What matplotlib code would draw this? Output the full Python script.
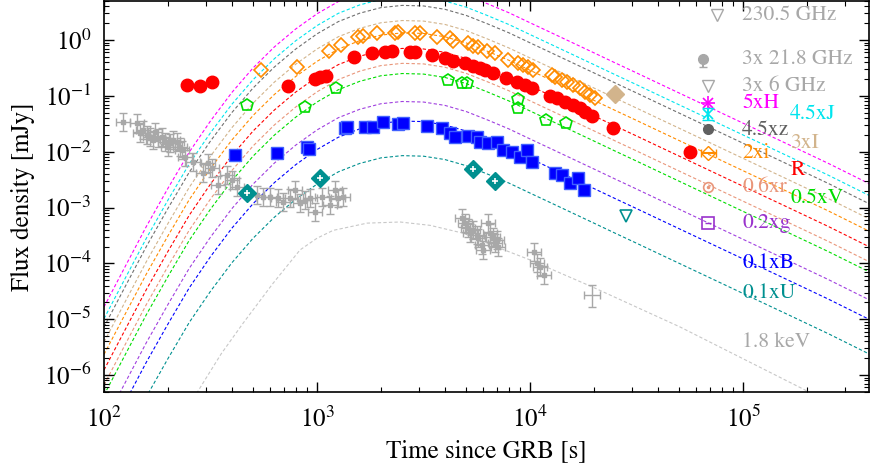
import numpy as np
import matplotlib
matplotlib.use('Agg')
import matplotlib.pyplot as plt
from matplotlib.ticker import LogLocator, NullFormatter

plt.rcParams['font.family'] = ['STIXGeneral', 'DejaVu Serif']
plt.rcParams['mathtext.fontset'] = 'stix'

# model light curve for the R band (s, mJy)
t_model = [100, 126, 158, 200, 251, 316, 398, 501, 631, 794, 1000, 1259, 1585, 1995,
           2512, 3162, 3981, 5012, 6310, 7943, 10000, 12590, 15850, 19950, 25120,
           31620, 39810, 63100, 100000, 158500, 251200, 398100]
f_model_R = [1.23e-6, 6.61e-6, 3.39e-5, 1.66e-4, 7.24e-4, 2.63e-3, 8.5e-3, 0.0235,
             0.056, 0.117, 0.219, 0.363, 0.513, 0.646, 0.708, 0.692, 0.603, 0.468,
             0.331, 0.229, 0.151, 0.100, 0.0661, 0.0437, 0.0288, 0.0191, 0.0126,
             0.0055, 0.0024, 0.00105, 4.57e-4, 1.91e-4]

# scaling of each optical/NIR model relative to R
band_labels = ['5xH', '4.5xJ', '4.5xz', '3xI', '2xi', 'R', '0.6xr', '0.5xV', '0.2xg', '0.1xB', '0.1xU']
band_scale = [13.5, 8.3, 5.9, 3.16, 1.9, 1.0, 0.54, 0.355, 0.112, 0.050, 0.012]
band_colors = ['#ff00ff', '#00e5ee', '#707070', '#d2b48c', '#ff8c00', '#ff0000',
               '#e9967a', '#00dd00', '#a040e0', '#0000ff', '#009090']

# X-ray model (1.8 keV)
t_xmod = [200, 274, 355, 450, 621, 832, 1000, 1189, 1718, 2455, 3396, 4842, 7000,
          10000, 19770, 50580, 195400, 398100]
f_xmod = [5.0e-8, 4.9e-7, 2.4e-6, 8.5e-6, 4.37e-5, 1.74e-4, 2.82e-4, 3.89e-4, 5.25e-4,
          5.5e-4, 4.79e-4, 3.47e-4, 1.95e-4, 1.15e-4, 3.72e-5, 7.24e-6, 5.37e-7, 1.38e-7]

# R data
t_R = [245, 282, 321, 731, 979, 1033, 1102, 1493, 1812, 2085, 2250, 2733, 2886, 3467,
       3990, 4350, 4950, 5400, 5820, 6150, 6700, 7710, 8690, 9480, 10210, 12400, 13400,
       14600, 15900, 17200, 18100, 19550, 24500, 56400]
f_R = [0.156, 0.150, 0.177, 0.150, 0.200, 0.217, 0.226, 0.496, 0.585, 0.610, 0.635,
       0.610, 0.610, 0.538, 0.476, 0.420, 0.387, 0.342, 0.315, 0.290, 0.256, 0.208,
       0.177, 0.156, 0.138, 0.099, 0.091, 0.077, 0.068, 0.060, 0.051, 0.043, 0.0265, 0.0098]

# 2xi data
t_i = [546, 806, 1138, 1296, 1557, 1644, 1914, 2324, 2400, 2886, 3045, 3660, 4210, 4350,
       5120, 5400, 5700, 6280, 6850, 7880, 8790, 9270, 9790, 10330, 12690, 13100, 14130,
       14930, 15900, 17200, 18100, 19150, 20200]
f_i = [0.290, 0.328, 0.635, 0.813, 1.13, 1.18, 1.33, 1.33, 1.39, 1.33, 1.33, 1.13, 1.09,
       0.96, 0.88, 0.78, 0.75, 0.635, 0.585, 0.438, 0.387, 0.356, 0.328, 0.290, 0.236,
       0.217, 0.192, 0.177, 0.156, 0.138, 0.117, 0.103, 0.091]

# 3xI data
t_I = [25100]
f_I = [0.108]

# 0.5xV data
t_V = [469, 878, 1228, 4120, 4800, 5060, 8790, 8790, 11890, 14750]
f_V = [0.0684, 0.063, 0.138, 0.192, 0.170, 0.170, 0.0877, 0.060, 0.0368, 0.0326]

# 0.1xB data
t_B = [412, 649, 897, 917, 1353, 1383, 1680, 1832, 2042, 2400, 2535, 3284, 3864, 4210,
       4445, 5120, 5640, 5820, 6350, 7000, 7470, 8230, 8970, 9680, 10210, 13100, 14130,
       15400, 16800, 17950]
f_B = [0.00869, 0.00944, 0.0121, 0.0111, 0.0265, 0.0276, 0.0276, 0.0276, 0.0339, 0.0312,
       0.0326, 0.0288, 0.0265, 0.0215, 0.0183, 0.0190, 0.0183, 0.0149, 0.0143, 0.0149,
       0.0107, 0.0098, 0.0080, 0.0107, 0.0065, 0.0041, 0.0038, 0.0027, 0.0034, 0.0021]

# 0.1xU data and upper limit
t_U = [469, 1033, 5400, 6850]
f_U = [0.00181, 0.00336, 0.00488, 0.00297]
t_U_lim = [28250]
f_U_lim = [0.000701]

# X-ray 1.8 keV data
t_X = [123, 143, 148, 152, 159, 164, 170, 173, 179, 187, 193, 200, 204, 211, 220, 227,
       232, 240, 262, 292, 308, 321, 343, 378, 399, 421, 523, 557, 601, 656, 692, 746,
       788, 832, 878, 927, 979, 1055, 1150, 1215, 1255, 1325,
       4800, 4950, 5120, 5230, 5400, 5640, 5700, 5950, 6020, 6350, 6490, 6700, 6850,
       7000, 7080, 10450, 10790, 11150, 11640]
f_X = [0.0339, 0.0326, 0.0215, 0.0244, 0.0198, 0.0183, 0.0161, 0.0225, 0.0175, 0.0183,
       0.0149, 0.0121, 0.0143, 0.0161, 0.0149, 0.0121, 0.0107, 0.0080, 0.0065, 0.0041,
       0.0062, 0.0051, 0.0025, 0.0038, 0.0031, 0.0023, 0.00167, 0.00153, 0.00153,
       0.00147, 0.00125, 0.00147, 0.00205, 0.00120, 0.00136, 0.00147, 0.00083, 0.00153,
       0.00110, 0.00205, 0.00147, 0.00153,
       6.46e-4, 5.25e-4, 4.27e-4, 3.48e-4, 3.94e-4, 3.20e-4, 2.83e-4, 2.12e-4, 1.73e-4,
       5.25e-4, 3.48e-4, 2.95e-4, 2.30e-4, 2.61e-4, 1.95e-4, 1.59e-4, 1.01e-4, 8.55e-5,
       6.15e-5]
# last X-ray point with its own error box
t_X_last, t_X_last_lo, t_X_last_hi = 19550, 17950, 21300
f_X_last, f_X_last_lo, f_X_last_hi = 2.69e-5, 1.64e-5, 4.07e-5

gray = '#a8a8a8'

fig = plt.figure(figsize=(8.72, 4.71), dpi=100)
ax = fig.add_axes([0.1193, 0.1677, 0.8773, 0.8301])

dash = (0, (3, 2))
for s, c in zip(band_scale, band_colors):
    ax.plot(t_model, np.array(f_model_R) * s, ls=dash, lw=0.8, color=c, zorder=1)
ax.plot(t_xmod, f_xmod, ls=dash, lw=0.8, color='#c8c8c8', zorder=1)

# X-ray data
tX = np.array(t_X); fX = np.array(f_X)
ax.errorbar(tX, fX, xerr=[tX - tX / 1.08, tX * 0.08], yerr=[fX - fX / 1.45, fX * 0.45],
            fmt='s', ms=3, color=gray, elinewidth=1, capsize=3, zorder=2)
ax.errorbar([t_X_last], [f_X_last],
            xerr=[[t_X_last - t_X_last_lo], [t_X_last_hi - t_X_last]],
            yerr=[[f_X_last - f_X_last_lo], [f_X_last_hi - f_X_last]],
            fmt='none', color=gray, elinewidth=1, capsize=3, zorder=2)

# optical data
ax.plot(t_R, f_R, 'o', ms=9, color='#ff0000', zorder=4)
ax.plot(t_i, f_i, 'D', ms=7, mfc='none', mec='#ff8c00', mew=1.2, zorder=4)
ax.plot(t_I, f_I, 'D', ms=9, color='#d2b48c', zorder=4)
ax.plot(t_V, f_V, 'p', ms=9, mfc='none', mec='#00dd00', mew=1.2, zorder=4)
ax.plot(t_B, f_B, 's', ms=8.5, color='#0000ff', mec='#4060ff', zorder=4)
ax.plot(t_U, f_U, 'D', ms=9, color='#009090', zorder=4)
ax.plot(t_U, f_U, '+', ms=4, color='white', mew=1.2, zorder=5)
ax.plot(t_U_lim, f_U_lim, 'v', ms=9, mfc='none', mec='#009090', mew=1.2, zorder=4)

ax.set_xscale('log')
ax.set_yscale('log')
ax.set_xlim(100, 3.9e5)
ax.set_ylim(4.95e-7, 5.0)

ax.xaxis.set_major_locator(LogLocator(base=10, numticks=10))
ax.yaxis.set_major_locator(LogLocator(base=10, numticks=12))
ax.xaxis.set_minor_locator(LogLocator(base=10, subs=np.arange(2, 10), numticks=12))
ax.yaxis.set_minor_locator(LogLocator(base=10, subs=np.arange(2, 10), numticks=12))
ax.xaxis.set_minor_formatter(NullFormatter())
ax.yaxis.set_minor_formatter(NullFormatter())
ax.tick_params(which='both', direction='in', top=True, right=True, labelsize=18)
ax.tick_params(which='major', length=7, width=1)
ax.tick_params(which='minor', length=3.5, width=0.8)
ax.tick_params(axis='x', pad=11)
ax.tick_params(axis='y', pad=9)
for sp in ax.spines.values():
    sp.set_linewidth(1.2)

ax.set_xlabel('Time since GRB [s]', fontsize=18, labelpad=4)
ax.set_ylabel('Flux density [mJy]', fontsize=18, labelpad=6)

# key (legend) in the upper right, drawn in axes coordinates
tr = ax.transAxes
fs = 15.5
key_col1 = [
    ('230.5 GHz', gray, 0.964),
    ('3x 21.8 GHz', gray, 0.852),
    ('3x 6 GHz', gray, 0.783),
    ('5xH', '#ff00ff', 0.738),
    ('4.5xz', '#606060', 0.671),
    ('2xi', '#ff8c00', 0.612),
    ('0.6xr', '#e9967a', 0.524),
    ('0.2xg', '#9932cc', 0.432),
    ('0.1xB', '#0000ff', 0.330),
    ('0.1xU', '#009090', 0.253),
    ('1.8 keV', gray, 0.128),
]
for txt, c, y in key_col1:
    ax.text(0.834, y, txt, color=c, fontsize=fs, ha='left', va='center', transform=tr)
key_col2 = [
    ('4.5xJ', '#00e5ee', 0.712),
    ('3xI', '#d2b48c', 0.637),
    ('R', '#ff0000', 0.568),
    ('0.5xV', '#00dd00', 0.497),
]
for txt, c, y in key_col2:
    ax.text(0.897, y, txt, color=c, fontsize=fs, ha='left', va='center', transform=tr)

mx = 0.790
ax.plot([0.801], [0.964], 'v', ms=9, mfc='none', mec=gray, mew=1, transform=tr, clip_on=False)
ax.errorbar([0.783], [0.852], yerr=[[0.02], [0.0]], fmt='o', ms=7, color=gray,
            capsize=3, transform=tr, clip_on=False)
ax.plot([mx], [0.783], 'v', ms=9, mfc='none', mec=gray, mew=1, transform=tr, clip_on=False)
ax.plot([mx], [0.738], '+', ms=10, color='#ff00ff', mew=1.2, transform=tr, clip_on=False)
ax.plot([mx], [0.738], 'x', ms=7, color='#ff00ff', mew=1.2, transform=tr, clip_on=False)
ax.plot([mx], [0.712], 'x', ms=7, color='#00e5ee', mew=1.2, transform=tr, clip_on=False)
ax.errorbar([mx], [0.712], yerr=[[0.015], [0.015]], fmt='none', color='#00e5ee',
            capsize=4, transform=tr, clip_on=False)
ax.plot([mx], [0.673], 'o', ms=7, color='#606060', transform=tr, clip_on=False)
ax.errorbar([mx], [0.612], xerr=[[0.01], [0.01]], fmt='D', ms=7, mfc='none',
            mec='#ff8c00', color='#ff8c00', capsize=3, transform=tr, clip_on=False)
ax.plot([mx], [0.524], 'o', ms=7, mfc='none', mec='#e9967a', mew=1.2, transform=tr, clip_on=False)
ax.plot([mx], [0.524], '.', ms=3, color='#e9967a', transform=tr, clip_on=False)
ax.plot([mx], [0.432], 's', ms=8, mfc='none', mec='#9932cc', mew=1.2, transform=tr, clip_on=False)
ax.plot([mx], [0.432], '_', ms=5, color='#9932cc', transform=tr, clip_on=False)

fig.savefig('out.png', dpi=100)
